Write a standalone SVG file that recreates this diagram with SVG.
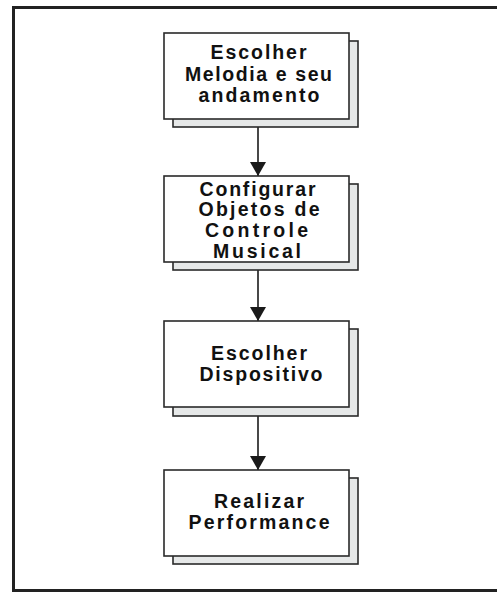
<svg xmlns="http://www.w3.org/2000/svg" width="497" height="597" viewBox="0 0 497 597">
<defs>
<marker id="ah" viewBox="0 0 14 16" refX="14" refY="8" markerWidth="14" markerHeight="16" markerUnits="userSpaceOnUse" orient="auto">
<path d="M0,0 L14,8 L0,16 Z" fill="#1a1a1a"/>
</marker>
<style>
.box{fill:#ffffff;stroke:#2a2a2a;stroke-width:1.6}
.sh{fill:#e6e8e8;stroke:#2a2a2a;stroke-width:1.6}
.t{font-family:"Liberation Sans",Arial,sans-serif;font-weight:bold;font-size:19.5px;fill:#111;text-anchor:middle}
.c{stroke:#1a1a1a;stroke-width:1.6;fill:none}
.frame{stroke:#222;stroke-width:3;fill:none}
</style>
</defs>
<rect width="497" height="597" fill="#ffffff"/>
<path class="frame" d="M497,7.5 H13.5 V590.5 H497"/>
<g id="connectors">
<line class="c" x1="258" y1="119" x2="258" y2="176" marker-end="url(#ah)"/>
<line class="c" x1="258" y1="262" x2="258" y2="321" marker-end="url(#ah)"/>
<line class="c" x1="258" y1="407" x2="258" y2="470" marker-end="url(#ah)"/>
</g>
<g id="n1">
<rect class="sh" x="173" y="41" width="185" height="86"/>
<rect class="box" x="164" y="33" width="185" height="86"/>
<text class="t" x="258.5" y="59" textLength="96" lengthAdjust="spacing">Escolher</text>
<text class="t" x="258.5" y="81" textLength="147" lengthAdjust="spacing">Melodia e seu</text>
<text class="t" x="259" y="101.5" textLength="121" lengthAdjust="spacing">andamento</text>
</g>
<g id="n2">
<rect class="sh" x="173" y="184" width="185" height="86"/>
<rect class="box" x="164" y="176" width="185" height="86"/>
<text class="t" x="257.5" y="195.5" textLength="116" lengthAdjust="spacing">Configurar</text>
<text class="t" x="259" y="216" textLength="121" lengthAdjust="spacing">Objetos de</text>
<text class="t" x="256.5" y="236.5" textLength="103" lengthAdjust="spacing">Controle</text>
<text class="t" x="257" y="257.5" textLength="88" lengthAdjust="spacing">Musical</text>
</g>
<g id="n3">
<rect class="sh" x="173" y="329" width="185" height="87"/>
<rect class="box" x="164" y="321" width="185" height="86"/>
<text class="t" x="259" y="360" textLength="96" lengthAdjust="spacing">Escolher</text>
<text class="t" x="261" y="381" textLength="123" lengthAdjust="spacing">Dispositivo</text>
</g>
<g id="n4">
<rect class="sh" x="173" y="478" width="185" height="86"/>
<rect class="box" x="164" y="470" width="185" height="86"/>
<text class="t" x="259" y="508" textLength="90" lengthAdjust="spacing">Realizar</text>
<text class="t" x="259" y="529" textLength="141" lengthAdjust="spacing">Performance</text>
</g>
</svg>
